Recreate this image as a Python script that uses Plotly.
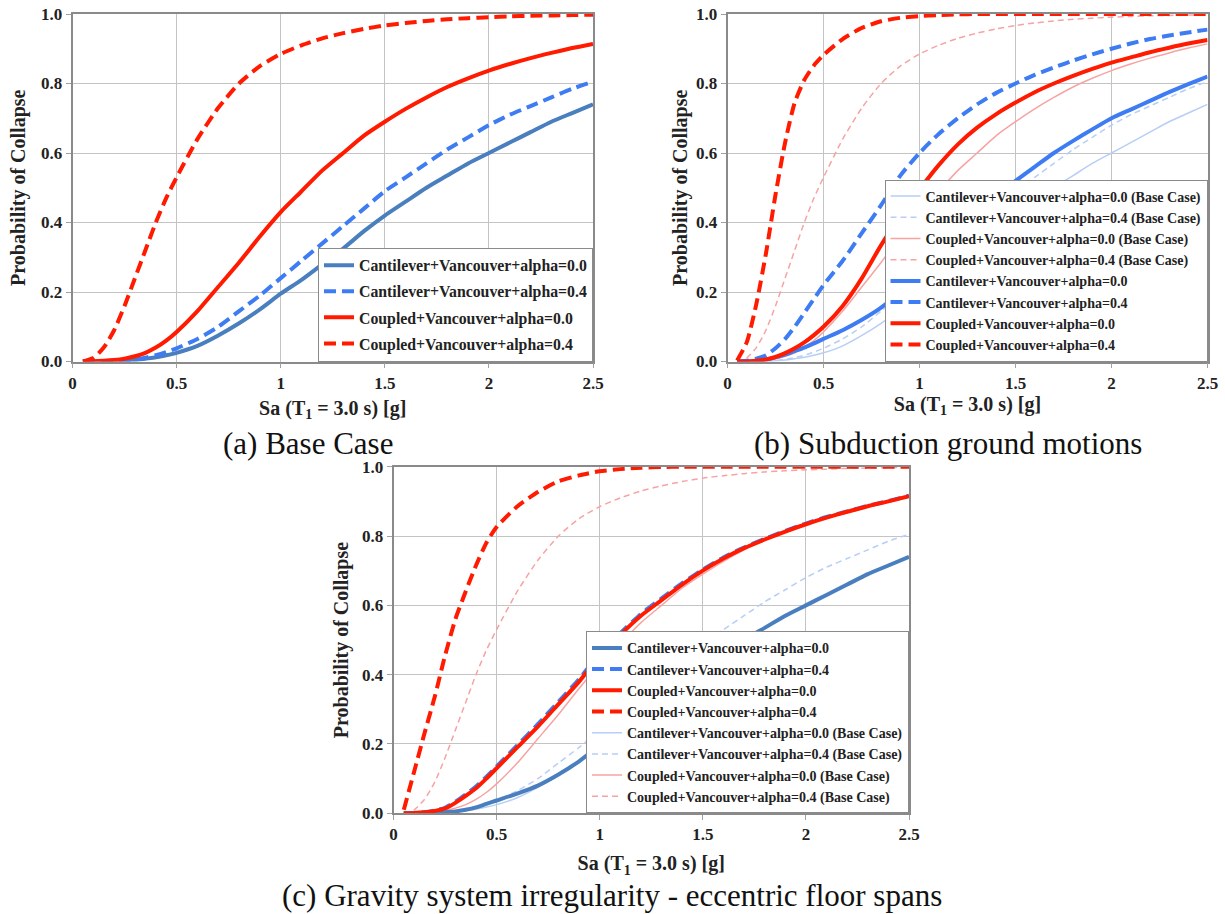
import plotly.graph_objects as go

# ---------------- data ----------------
SA = [0.05, 0.1, 0.15, 0.2, 0.25, 0.3, 0.35, 0.4, 0.45, 0.5, 0.6, 0.7, 0.8, 0.9, 1.0,
      1.1, 1.2, 1.3, 1.4, 1.5, 1.6, 1.7, 1.8, 1.9, 2.0, 2.1, 2.2, 2.3, 2.4, 2.5]

# (a) Base case
base_cant0 = [0, 0, 0, 0, 0.002, 0.004, 0.008, 0.012, 0.018, 0.025, 0.045, 0.075, 0.11, 0.15, 0.195,
              0.235, 0.28, 0.325, 0.375, 0.42, 0.46, 0.5, 0.535, 0.57, 0.6, 0.63, 0.66, 0.69, 0.715, 0.74]
base_cant4 = [0, 0, 0, 0.001, 0.003, 0.006, 0.011, 0.018, 0.027, 0.038, 0.065, 0.1, 0.145, 0.19, 0.24,
              0.29, 0.34, 0.39, 0.44, 0.49, 0.53, 0.57, 0.61, 0.645, 0.68, 0.71, 0.735, 0.76, 0.785, 0.805]
base_coup0 = [0, 0.001, 0.002, 0.004, 0.008, 0.015, 0.025, 0.04, 0.06, 0.085, 0.145, 0.215, 0.285, 0.36, 0.43,
              0.49, 0.55, 0.6, 0.65, 0.69, 0.727, 0.76, 0.79, 0.815, 0.837, 0.856, 0.873, 0.888, 0.902, 0.914]
base_coup4 = [0, 0.01, 0.04, 0.09, 0.16, 0.24, 0.32, 0.4, 0.47, 0.53, 0.64, 0.73, 0.8, 0.85, 0.885,
              0.91, 0.93, 0.945, 0.957, 0.967, 0.974, 0.98, 0.985, 0.988, 0.991, 0.993, 0.995, 0.996, 0.997, 0.998]

# (b) Subduction ground motions
sub_cant0 = [0, 0, 0.002, 0.006, 0.012, 0.02, 0.03, 0.04, 0.052, 0.065, 0.09, 0.12, 0.155, 0.2, 0.25,
             0.31, 0.37, 0.43, 0.478, 0.52, 0.56, 0.6, 0.635, 0.668, 0.7, 0.725, 0.75, 0.775, 0.798, 0.82]
sub_cant4 = [0, 0.002, 0.008, 0.018, 0.038, 0.065, 0.1, 0.14, 0.18, 0.22, 0.29, 0.37, 0.45, 0.535, 0.6,
             0.655, 0.7, 0.74, 0.773, 0.8, 0.825, 0.846, 0.866, 0.884, 0.9, 0.915, 0.928, 0.938, 0.947, 0.955]
sub_coup0 = [0, 0, 0.002, 0.006, 0.013, 0.024, 0.038, 0.055, 0.076, 0.1, 0.16, 0.24, 0.335, 0.42, 0.495,
             0.565, 0.625, 0.673, 0.712, 0.745, 0.775, 0.8, 0.822, 0.842, 0.86, 0.875, 0.89, 0.903, 0.915, 0.925]
sub_coup4 = [0.003, 0.055, 0.165, 0.31, 0.48, 0.63, 0.745, 0.81, 0.852, 0.882, 0.928, 0.96, 0.979, 0.989, 0.994,
             0.997, 0.999, 1.0, 1.0, 1.0, 1.0, 1.0, 1.0, 1.0, 1.0, 1.0, 1.0, 1.0, 1.0, 1.0]

# (c) Gravity system irregularity - eccentric floor spans
ecc_cant0 = [0, 0, 0, 0.001, 0.003, 0.005, 0.01, 0.017, 0.027, 0.037, 0.057, 0.08, 0.112, 0.15, 0.195,
             0.235, 0.28, 0.325, 0.375, 0.42, 0.46, 0.5, 0.535, 0.57, 0.6, 0.63, 0.66, 0.69, 0.715, 0.74]
ecc_cant4 = [0, 0.001, 0.003, 0.008, 0.016, 0.033, 0.054, 0.077, 0.105, 0.135, 0.196, 0.257, 0.322, 0.387, 0.461,
             0.52, 0.575, 0.62, 0.664, 0.703, 0.738, 0.767, 0.792, 0.815, 0.836, 0.855, 0.871, 0.887, 0.901, 0.916]
ecc_coup0 = [0, 0.001, 0.003, 0.007, 0.014, 0.03, 0.05, 0.072, 0.1, 0.13, 0.19, 0.25, 0.315, 0.38, 0.455,
             0.515, 0.57, 0.615, 0.66, 0.7, 0.735, 0.765, 0.79, 0.813, 0.834, 0.853, 0.87, 0.886, 0.9, 0.915]
ecc_coup4 = [0.01, 0.12, 0.23, 0.336, 0.455, 0.56, 0.64, 0.715, 0.78, 0.826, 0.885, 0.927, 0.958, 0.975, 0.987,
             0.993, 0.997, 0.999, 1.0, 1.0, 1.0, 1.0, 1.0, 1.0, 1.0, 1.0, 1.0, 1.0, 1.0, 1.0]

LBL = ["Cantilever+Vancouver+alpha=0.0", "Cantilever+Vancouver+alpha=0.4",
       "Coupled+Vancouver+alpha=0.0", "Coupled+Vancouver+alpha=0.4"]
BASE_SUFFIX = " (Base Case)"
X_TICKS = [0, 0.5, 1, 1.5, 2, 2.5]
X_TICKTEXT = ["0", "0.5", "1", "1.5", "2", "2.5"]
Y_TICKS = [0, 0.2, 0.4, 0.6, 0.8, 1.0]
Y_TICKTEXT = ["0.0", "0.2", "0.4", "0.6", "0.8", "1.0"]
CAPTIONS = ["(a) Base Case", "(b) Subduction ground motions",
            "(c) Gravity system irregularity - eccentric floor spans"]
X_TITLE = "Sa (T<sub>1</sub> = 3.0 s) [g]"
Y_TITLE = "Probability of Collapse"

# ---------------- styles ----------------
STEEL = "#4a7fbf"
BLUE = "#3d7cf2"
RED = "#ff1a00"
LBLUE = "#b7cef6"
LRED = "#f7a3a3"
SERIF = "Liberation Serif"
W = 1225
H = 914


def px_x(p):
    return p / W


def px_y(p):
    return 1 - p / H


fig = go.Figure()


def add(x, y, name, color, width, dash, xa, ya, legend, rank, group=None):
    fig.add_trace(go.Scatter(
        x=x, y=y, name=name, mode="lines",
        line=dict(color=color, width=width, dash=dash, shape="spline", smoothing=0.6),
        xaxis=xa, yaxis=ya, legend=legend, legendrank=rank,
        legendgroup=group, hoverinfo="skip"))


THICK = 4
THIN = 1.5
DASH_THICK = "12px,6px"
DASH_THIN = "6px,4px"

# (a)
add(SA, base_cant0, LBL[0], STEEL, THICK, "solid", "x", "y", "legend", 1, "a1")
add(SA, base_cant4, LBL[1], BLUE, THICK, DASH_THICK, "x", "y", "legend", 2, "a2")
add(SA, base_coup0, LBL[2], RED, THICK, "solid", "x", "y", "legend", 3, "a3")
add(SA, base_coup4, LBL[3], RED, THICK, DASH_THICK, "x", "y", "legend", 4, "a4")

# (b)
add(SA, base_cant0, LBL[0] + BASE_SUFFIX, LBLUE, THIN, "solid", "x2", "y2", "legend2", 1)
add(SA, base_cant4, LBL[1] + BASE_SUFFIX, LBLUE, THIN, DASH_THIN, "x2", "y2", "legend2", 2)
add(SA, base_coup0, LBL[2] + BASE_SUFFIX, LRED, THIN, "solid", "x2", "y2", "legend2", 3)
add(SA, base_coup4, LBL[3] + BASE_SUFFIX, LRED, THIN, DASH_THIN, "x2", "y2", "legend2", 4)
add(SA, sub_cant0, LBL[0], BLUE, THICK, "solid", "x2", "y2", "legend2", 5)
add(SA, sub_cant4, LBL[1], BLUE, THICK, DASH_THICK, "x2", "y2", "legend2", 6)
add(SA, sub_coup0, LBL[2], RED, THICK, "solid", "x2", "y2", "legend2", 7)
add(SA, sub_coup4, LBL[3], RED, THICK, DASH_THICK, "x2", "y2", "legend2", 8)

# (c)
add(SA, base_cant0, LBL[0] + BASE_SUFFIX, LBLUE, THIN, "solid", "x3", "y3", "legend3", 5)
add(SA, base_cant4, LBL[1] + BASE_SUFFIX, LBLUE, THIN, DASH_THIN, "x3", "y3", "legend3", 6)
add(SA, base_coup0, LBL[2] + BASE_SUFFIX, LRED, THIN, "solid", "x3", "y3", "legend3", 7)
add(SA, base_coup4, LBL[3] + BASE_SUFFIX, LRED, THIN, DASH_THIN, "x3", "y3", "legend3", 8)
add(SA, ecc_cant0, LBL[0], STEEL, THICK, "solid", "x3", "y3", "legend3", 1)
add(SA, ecc_cant4, LBL[1], BLUE, THICK, DASH_THICK, "x3", "y3", "legend3", 2)
add(SA, ecc_coup0, LBL[2], RED, THICK, "solid", "x3", "y3", "legend3", 3)
add(SA, ecc_coup4, LBL[3], RED, THICK, DASH_THICK, "x3", "y3", "legend3", 4)

# ---------------- layout ----------------
tickfont = dict(family=SERIF, size=17, color="#222222", weight="bold")
titlefont = dict(family=SERIF, size=20, color="#222222", weight="bold")


def xax(domain, anchor, standoff):
    return dict(domain=domain, anchor=anchor, range=[0, 2.5], tickmode="array",
                tickvals=X_TICKS, ticktext=X_TICKTEXT, showgrid=True, gridcolor="#c4c4c4",
                gridwidth=1.3, showline=True, linecolor="#8a8a8a", linewidth=1.5, mirror=True,
                ticks="outside", ticklen=5, tickcolor="#a0a0a0", zeroline=False,
                tickfont=tickfont, automargin=True, ticklabeloverflow="allow",
                title=dict(text=X_TITLE, font=titlefont, standoff=standoff),
                fixedrange=True)


def yax(domain, anchor, standoff):
    return dict(domain=domain, anchor=anchor, range=[0, 1.0], tickmode="array",
                tickvals=Y_TICKS, ticktext=Y_TICKTEXT, showgrid=True, gridcolor="#c4c4c4",
                gridwidth=1.3, showline=True, linecolor="#8a8a8a", linewidth=1.5, mirror=True,
                ticks="outside", ticklen=5, tickcolor="#a0a0a0", zeroline=False,
                tickfont=tickfont, automargin=True, ticklabeloverflow="allow",
                title=dict(text=Y_TITLE, font=titlefont, standoff=standoff),
                fixedrange=True)


xa_dom = [px_x(72.5), px_x(593)]
xb_dom = [px_x(727.5), px_x(1207.5)]
xc_dom = [px_x(393.5), px_x(909)]
yab_dom = [px_y(361.5), px_y(14)]
yc_dom = [px_y(813.3), px_y(466.7)]

legfont_a = dict(family=SERIF, size=15.8, color="#222222", weight="bold")
legfont_bc = dict(family=SERIF, size=14, color="#222222", weight="bold")

fig.update_layout(
    width=W, height=H, autosize=False,
    margin=dict(l=0, r=0, t=0, b=0, autoexpand=False),
    paper_bgcolor="white", plot_bgcolor="white",
    xaxis=xax(xa_dom, "y", 9), yaxis=yax(yab_dom, "x", 10),
    xaxis2=xax(xb_dom, "y2", 5), yaxis2=yax(yab_dom, "x2", 3),
    xaxis3=xax(xc_dom, "y3", 13), yaxis3=yax(yc_dom, "x3", 8),
    legend=dict(x=xa_dom[1], y=yab_dom[0], xanchor="right", yanchor="bottom",
                bgcolor="white", bordercolor="#8a8a8a", borderwidth=1,
                font=legfont_a, traceorder="grouped", tracegroupgap=2.5),
    legend2=dict(x=xb_dom[1], y=yab_dom[0], xanchor="right", yanchor="bottom",
                 bgcolor="white", bordercolor="#8a8a8a", borderwidth=1,
                 font=legfont_bc, traceorder="normal"),
    legend3=dict(x=xc_dom[1], y=yc_dom[0], xanchor="right", yanchor="bottom",
                 bgcolor="white", bordercolor="#8a8a8a", borderwidth=1,
                 font=legfont_bc, traceorder="normal"),
    showlegend=True,
)

capfont = dict(family=SERIF, size=31, color="#111111")
fig.add_annotation(text=CAPTIONS[0], x=px_x(308), y=px_y(443), xref="paper", yref="paper",
                   showarrow=False, font=capfont, xanchor="center", yanchor="middle")
fig.add_annotation(text=CAPTIONS[1], x=px_x(948), y=px_y(443), xref="paper", yref="paper",
                   showarrow=False, font=capfont, xanchor="center", yanchor="middle")
fig.add_annotation(text=CAPTIONS[2], x=px_x(612), y=px_y(895), xref="paper", yref="paper",
                   showarrow=False, font=capfont, xanchor="center", yanchor="middle")

# no mode bar; remove the browser's default page margin so the figure fills the window exactly
fig.write_html("out.html", config={"displayModeBar": False, "displaylogo": False},
               post_script="document.body.style.margin='0px';")
